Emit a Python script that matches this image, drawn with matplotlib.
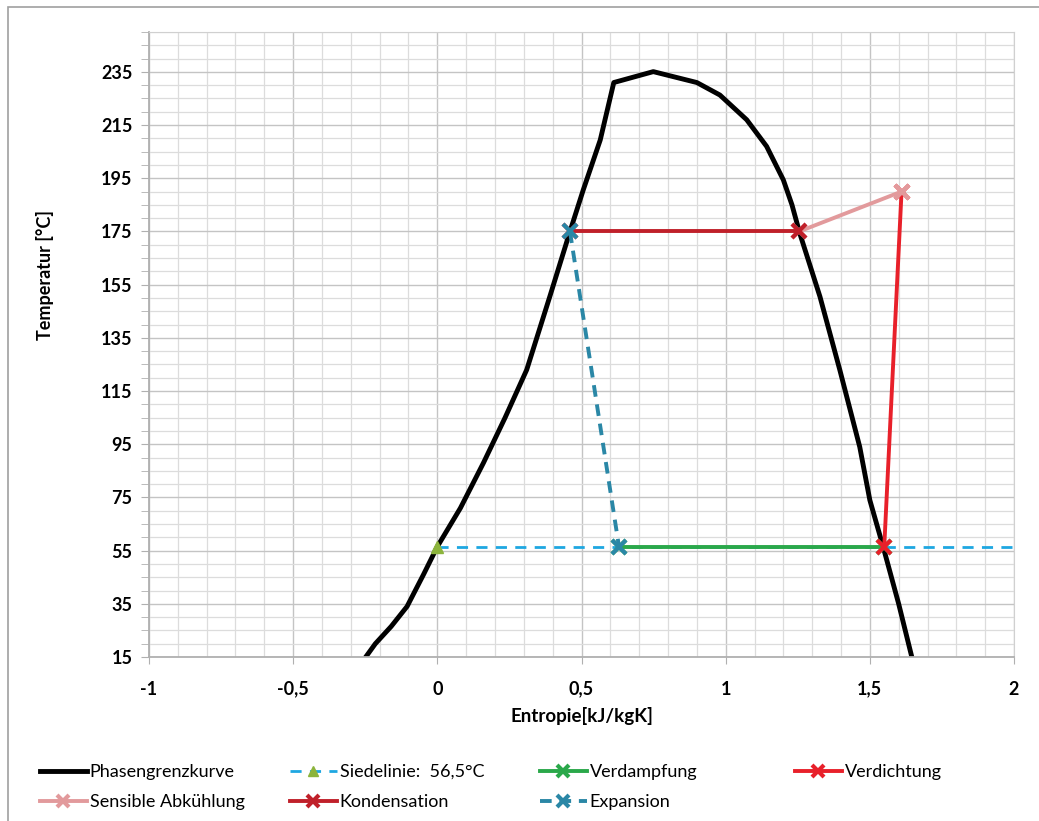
import numpy as np
import matplotlib
matplotlib.use("Agg")
import matplotlib.pyplot as plt
from matplotlib.patches import Rectangle
from matplotlib.ticker import MultipleLocator, FuncFormatter

plt.rcParams['font.family'] = ['Lato', 'DejaVu Sans']

# Phasengrenzkurve
phase_s = [-0.245, -0.215, -0.16, -0.105, -0.048, 0.0, 0.08, 0.16, 0.235, 0.31, 0.39, 0.46,
           0.506, 0.565, 0.612, 0.749, 0.90, 0.98, 1.073, 1.142, 1.20, 1.23, 1.257, 1.327,
           1.396, 1.465, 1.50, 1.546, 1.60, 1.644]
phase_T = [15.5, 20.0, 26.5, 34.0, 46.0, 56.5, 71.0, 88.0, 105.0, 123.0, 150.5, 175.0,
           190.6, 209.4, 231.0, 235.1, 231.0, 226.3, 217.0, 207.0, 194.4, 185.0, 174.3, 150.5,
           122.9, 94.0, 74.0, 56.5, 35.0, 15.7]

sied_s = [0.0, 2.0]
sied_T = [56.5, 56.5]

verdampf_s = [0.63, 1.55]
verdampf_T = [56.5, 56.5]

verdicht_s = [1.55, 1.61]
verdicht_T = [56.5, 190.0]

sensibel_s = [1.61, 1.255]
sensibel_T = [190.0, 175.0]

kond_s = [1.255, 0.46]
kond_T = [175.0, 175.0]

exp_s = [0.46, 0.63]
exp_T = [175.0, 56.5]

W, H = 1039, 821
fig = plt.figure(figsize=(W / 100, H / 100), dpi=100)
fig.patches.append(Rectangle((8 / W, -0.1), 1.2, 1 - 7 / H + 0.1, transform=fig.transFigure,
                             fill=False, edgecolor='#a0a0a0', lw=1.2))
ax = fig.add_axes([149 / W, 1 - 657 / H, (1014 - 149) / W, (657 - 32) / H])

ax.set_xlim(-1, 2)
ax.set_ylim(15, 250)
ax.xaxis.set_major_locator(MultipleLocator(0.5))
ax.xaxis.set_minor_locator(MultipleLocator(0.1))
ax.set_yticks(np.arange(15, 236, 20))
ax.yaxis.set_minor_locator(MultipleLocator(5))
ax.grid(which='major', color='#c4c4c4', lw=1.0)
ax.grid(which='minor', color='#dcdcdc', lw=0.9)
ax.set_axisbelow(True)
for sp in ['top', 'right']:
    ax.spines[sp].set_color('#d0d0d0')
for sp in ['left', 'bottom']:
    ax.spines[sp].set_color('#b0b0b0')
    ax.spines[sp].set_linewidth(1.3)
ax.tick_params(axis='y', which='both', direction='out', length=6, color='#b0b0b0')
ax.tick_params(axis='x', which='major', direction='out', length=5, color='#b0b0b0')
ax.tick_params(axis='x', which='minor', length=0)
ax.tick_params(labelsize=13, pad=6)
for lab in ax.get_xticklabels() + ax.get_yticklabels():
    lab.set_fontweight('bold')
ax.xaxis.set_major_formatter(FuncFormatter(lambda v, p: ('%g' % v).replace('.', ',')))
ax.tick_params(axis='x', pad=12)

ax.set_xlabel('Entropie[kJ/kgK]', fontsize=13.5, fontweight='bold', labelpad=7)
ax.set_ylabel('Temperatur [°C]', fontsize=13, fontweight='bold')
ax.yaxis.set_label_coords(-0.11, 0.611)

h_phase, = ax.plot(phase_s, phase_T, color='black', lw=3.5, solid_joinstyle='round')
h_sied, = ax.plot(sied_s, sied_T, color='#1ea7e1', lw=2, ls=(0, (4, 3)),
                  marker='^', markevery=[0], ms=8, mfc='#8cb43c', mec='#8cb43c')
h_verdampf, = ax.plot(verdampf_s, verdampf_T, color='#2aa84a', lw=2.8,
                      marker='x', ms=10, mew=3)
h_verdicht, = ax.plot(verdicht_s, verdicht_T, color='#e8202a', lw=2.8,
                      marker='x', ms=10, mew=3)
h_sensibel, = ax.plot(sensibel_s, sensibel_T, color='#e29a9c', lw=2.8,
                      marker='x', ms=10, mew=3)
h_kond, = ax.plot(kond_s, kond_T, color='#c0202a', lw=2.8,
                  marker='x', ms=10, mew=3)
h_exp, = ax.plot(exp_s, exp_T, color='#2a87a6', lw=2.8, ls=(0, (3, 2)),
                 marker='x', ms=10, mew=3)

cols = [
    ([h_phase, h_sensibel], ['Phasengrenzkurve', 'Sensible Abkühlung'], 40),
    ([h_sied, h_kond], ['Siedelinie:  56,5°C', 'Kondensation'], 290),
    ([h_verdampf, h_exp], ['Verdampfung', 'Expansion'], 540),
    ([h_verdicht], ['Verdichtung'], 795),
]
for hs, ls, x0 in cols:
    fig.legend(hs, ls, loc='upper left', bbox_to_anchor=(x0 / W, 1 - 764 / H),
               frameon=False, fontsize=13, handlelength=2.6, handletextpad=0.15,
               borderpad=0, borderaxespad=0, labelspacing=0.8, markerscale=0.9)

fig.savefig('out.png', dpi=100)
